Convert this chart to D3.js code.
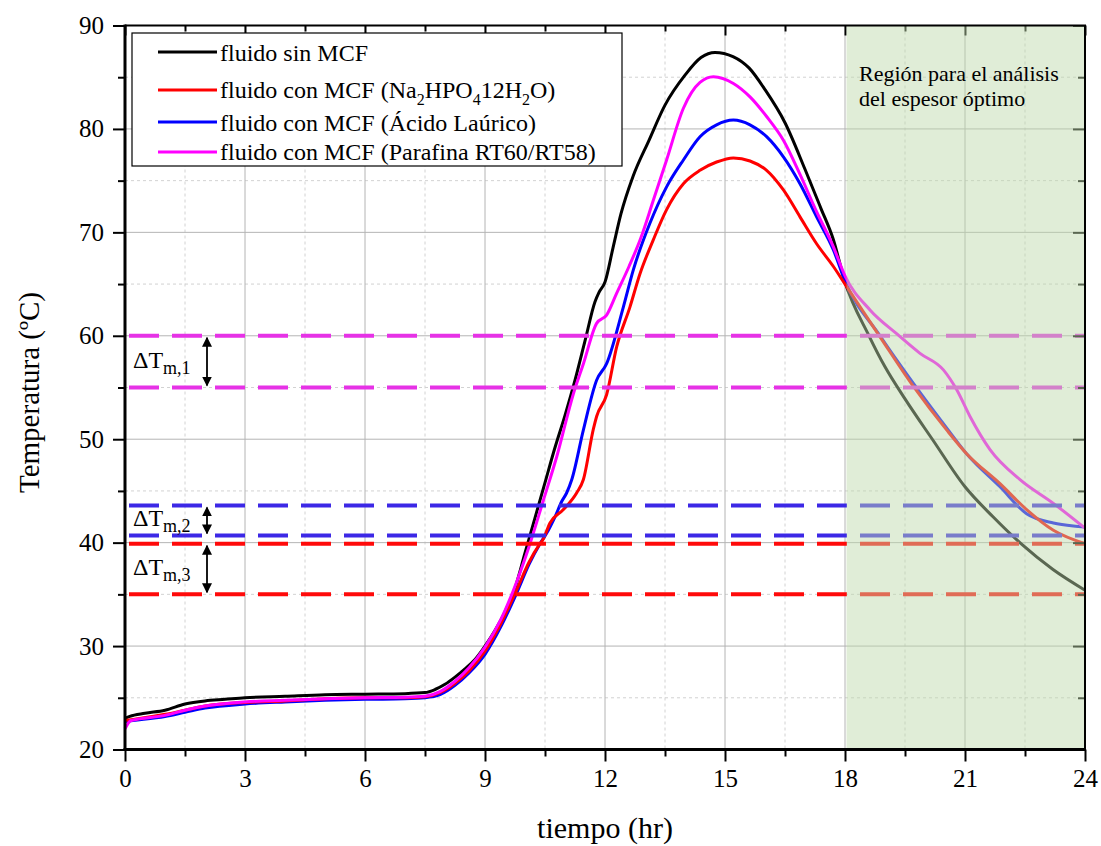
<!DOCTYPE html>
<meta charset="utf-8">
<style>
body { margin: 0; background: #fff; }
text { font-family: "Liberation Serif", "Times New Roman", serif; fill: #000; }
.grid-major line { stroke: #b4b4b4; stroke-width: 1; }
.grid-minor line { stroke: #d2d2d2; stroke-width: 1; stroke-dasharray: 3,3; }
.axis path { display: none; }
.axis line { stroke: #000; stroke-width: 2; }
</style>
<svg width="1101" height="846"></svg>
<script src="https://d3js.org/d3.v7.min.js"></script>
<script>

// ---- data ----
var xMajor = [0, 3, 6, 9, 12, 15, 18, 21, 24];
var xMinor = [1.5, 4.5, 7.5, 10.5, 13.5, 16.5, 19.5, 22.5];
var yMajor = [20, 30, 40, 50, 60, 70, 80, 90];
var yMinor = [25, 35, 45, 55, 65, 75, 85];

// fluido sin MCF
var tBlack = [0, 0.12, 0.5, 1, 1.5, 2, 2.5, 3, 4, 5, 6, 7, 7.5, 7.75, 8, 8.25, 8.5, 8.75, 9, 9.25, 9.5, 9.75, 10, 10.25, 10.5, 10.75, 11, 11.25, 11.5, 11.75, 11.85, 12, 12.2, 12.4, 12.7, 13.1, 13.5, 14, 14.4, 14.75, 15.2, 15.6, 16, 16.5, 17, 17.4, 17.7, 18, 18.6, 19, 19.5, 20.2, 21, 21.7, 22.4, 23.2, 24];
var vBlack = [23.0, 23.2, 23.5, 23.8, 24.4, 24.7, 24.85, 25.0, 25.15, 25.3, 25.35, 25.4, 25.5, 25.8, 26.3, 27.0, 27.8, 28.7, 30.0, 31.5, 33.3, 35.6, 39.0, 42.4, 45.8, 49.2, 52.3, 55.7, 59.5, 63.3, 64.2, 65.2, 68.5, 71.8, 75.4, 78.9, 82.3, 85.2, 86.9, 87.4, 87.0, 85.9, 83.8, 80.6, 76.1, 72.3, 69.4, 65.2, 60.0, 57.0, 53.9, 49.9, 45.4, 42.5, 39.9, 37.4, 35.4];

// fluido con MCF (Na2HPO4 12H2O)
var tRed = [0, 0.2, 1, 1.5, 2, 3, 4, 5, 6, 7, 7.5, 7.875, 8.25, 8.6, 9, 9.4, 9.8, 10.1, 10.375, 10.45, 10.625, 10.96, 11.29, 11.46, 11.71, 11.79, 12.04, 12.29, 12.625, 12.875, 13.21, 13.54, 13.96, 14.375, 14.79, 15.21, 15.625, 16.04, 16.46, 16.875, 17.29, 17.71, 18, 18.875, 19.71, 20.54, 21.04, 21.875, 22.54, 23.21, 24];
var vRed = [22.8, 22.9, 23.4, 23.8, 24.2, 24.55, 24.7, 24.9, 25.0, 25.0, 25.1, 25.5, 26.4, 27.6, 29.5, 32.2, 35.5, 38.1, 39.9, 40.3, 41.9, 43.2, 44.8, 46.1, 51.0, 52.2, 54.3, 58.9, 62.8, 66.0, 69.3, 72.2, 74.7, 76.0, 76.8, 77.2, 76.9, 76.0, 74.1, 71.5, 68.9, 66.7, 65.0, 59.9, 55.1, 50.9, 48.6, 45.7, 43.2, 41.2, 39.9];

// fluido con MCF (Acido Laurico)
var tBlue = [0, 0.2, 1, 1.5, 2, 3, 4, 5, 6, 7, 7.5, 7.875, 8.25, 8.6, 9, 9.4, 9.8, 10.1, 10.375, 10.54, 10.75, 10.92, 11.04, 11.17, 11.46, 11.79, 12.04, 12.46, 12.71, 13.125, 13.54, 13.96, 14.375, 14.79, 15.21, 15.625, 16.04, 16.46, 16.875, 17.29, 17.71, 18, 18.875, 19.71, 20.54, 21.04, 21.875, 22.54, 23.21, 23.71, 24];
var vBlue = [22.7, 22.8, 23.2, 23.6, 24.0, 24.4, 24.6, 24.75, 24.85, 24.9, 25.0, 25.3, 26.2, 27.4, 29.2, 31.9, 35.2, 37.9, 39.9, 40.9, 42.5, 44.0, 44.8, 46.1, 50.9, 55.7, 57.3, 62.8, 66.4, 70.9, 74.4, 77.0, 79.25, 80.4, 80.86, 80.4, 79.25, 77.3, 74.7, 71.5, 68.3, 65.3, 60.0, 55.4, 51.1, 48.6, 45.4, 42.8, 41.9, 41.6, 41.5];

// fluido con MCF (Parafina RT60/RT58)
var tMag = [0, 0.15, 1, 1.5, 2, 3, 4, 5, 6, 7, 7.5, 7.875, 8.25, 8.6, 9, 9.4, 9.8, 10.1, 10.46, 10.8, 11.21, 11.46, 11.79, 12.04, 12.29, 12.6, 12.9, 13.2, 13.54, 13.96, 14.375, 14.71, 15.21, 15.625, 16.04, 16.46, 16.875, 17.29, 17.71, 18, 18.625, 19.29, 19.875, 20.46, 20.79, 21.125, 21.625, 22.375, 23.21, 24];
var vMag = [22.0, 22.8, 23.3, 23.8, 24.2, 24.6, 24.75, 24.9, 25.0, 25.05, 25.15, 25.6, 26.6, 27.9, 29.9, 32.6, 36.3, 39.6, 44.1, 48.4, 54.4, 57.3, 61.2, 62.0, 64.1, 66.7, 69.5, 73.0, 77.0, 82.0, 84.5, 85.05, 84.4, 83.1, 81.2, 78.9, 75.6, 72.0, 68.6, 65.8, 62.5, 60.2, 58.3, 56.7, 54.8, 52.2, 49.0, 46.1, 43.8, 41.4];

var seriesNames = ["fluido sin MCF", "fluido con MCF (Na2HPO412H2O)", "fluido con MCF (Ácido Laúrico)", "fluido con MCF (Parafina RT60/RT58)"];
var seriesColors = ["#000000", "#ff0000", "#0000ff", "#ff00ff"];

// melting ranges (dashed lines), pairs per PCM
var meltTop = [60, 43.6, 39.9];
var meltBottom = [55, 40.7, 35];
var meltNames = ["m,1", "m,2", "m,3"];
var meltColors = ["#e632e6", "#3c28e6", "#ff0a0a"];

var regionStart = 18, regionEnd = 24;

// ---- layout ----
var svg = d3.select("svg");
var x = d3.scaleLinear().domain([0, 24]).range([125, 1085]);
var y = d3.scaleLinear().domain([20, 90]).range([749.5, 25.5]);
var pL = x(0), pR = x(24), pT = y(90), pB = y(20);
var serif = "Liberation Serif, Times New Roman, serif";

svg.append("rect").attr("width", 1101).attr("height", 846).attr("fill", "#fff");

// grid
svg.append("g").attr("class", "grid-minor")
  .selectAll("line").data(xMinor).join("line")
    .attr("x1", d => x(d)).attr("x2", d => x(d)).attr("y1", pT).attr("y2", pB);
svg.append("g").attr("class", "grid-minor")
  .selectAll("line").data(yMinor).join("line")
    .attr("y1", d => y(d)).attr("y2", d => y(d)).attr("x1", pL).attr("x2", pR);
svg.append("g").attr("class", "grid-major")
  .selectAll("line").data(xMajor.slice(1, -1)).join("line")
    .attr("x1", d => x(d)).attr("x2", d => x(d)).attr("y1", pT).attr("y2", pB);
svg.append("g").attr("class", "grid-major")
  .selectAll("line").data(yMajor.slice(1, -1)).join("line")
    .attr("y1", d => y(d)).attr("y2", d => y(d)).attr("x1", pL).attr("x2", pR);

// curves
var line = d3.line().x(d => x(d[0])).y(d => y(d[1])).curve(d3.curveMonotoneX);
var series = [
  d3.zip(tBlack, vBlack),
  d3.zip(tRed, vRed),
  d3.zip(tBlue, vBlue),
  d3.zip(tMag, vMag)
];
[0, 2, 1, 3].forEach(function(i) {
  svg.append("path")
    .attr("d", line(series[i]))
    .attr("fill", "none")
    .attr("stroke", seriesColors[i])
    .attr("stroke-width", 3)
    .attr("stroke-linejoin", "round");
});

// dashed melting lines
var dashG = svg.append("g");
meltTop.forEach(function(v, i) {
  [v, meltBottom[i]].forEach(function(w) {
    dashG.append("line")
      .attr("x1", pL + 4).attr("x2", pR)
      .attr("y1", y(w)).attr("y2", y(w))
      .attr("stroke", meltColors[i])
      .attr("stroke-width", 4)
      .attr("stroke-dasharray", "30,13");
  });
});

// top / right inner ticks
var topAxis = svg.append("g").attr("class", "axis").attr("transform", "translate(0," + pT + ")");
topAxis.call(d3.axisBottom(x).tickValues(xMajor).tickSize(10).tickFormat(""));
topAxis.append("g").call(d3.axisBottom(x).tickValues(xMinor).tickSize(6).tickFormat(""));
var rightAxis = svg.append("g").attr("class", "axis").attr("transform", "translate(" + pR + ",0)");
rightAxis.call(d3.axisLeft(y).tickValues(yMajor).tickSize(12).tickFormat(""));
rightAxis.append("g").call(d3.axisLeft(y).tickValues(yMinor).tickSize(7).tickFormat(""));
svg.selectAll(".axis .domain").remove();

// green region overlay
svg.append("rect")
  .attr("x", x(regionStart) + 1.5).attr("y", pT)
  .attr("width", x(regionEnd) - x(regionStart) - 1.5).attr("height", pB - pT)
  .attr("fill", "#bdd9aa").attr("fill-opacity", 0.475);

svg.append("text").attr("x", 859).attr("y", 81).attr("font-size", 22).text("Región para el análisis");
svg.append("text").attr("x", 859).attr("y", 106).attr("font-size", 22).text("del espesor óptimo");

// bottom / left axes
var xAxisG = svg.append("g").attr("class", "axis").attr("transform", "translate(0," + pB + ")");
xAxisG.call(d3.axisBottom(x).tickValues(xMajor).tickSize(12).tickPadding(8).tickFormat(d3.format("d")));
xAxisG.append("g").call(d3.axisBottom(x).tickValues(xMinor).tickSize(7).tickFormat(""));
xAxisG.attr("font-family", serif).attr("font-size", 25);
xAxisG.selectAll("text").attr("fill", "#000").style("font-family", serif).style("font-size", "25px");

var yAxisG = svg.append("g").attr("class", "axis").attr("transform", "translate(" + pL + ",0)");
yAxisG.call(d3.axisLeft(y).tickValues(yMajor).tickSize(12).tickPadding(9).tickFormat(d3.format("d")));
yAxisG.append("g").call(d3.axisLeft(y).tickValues(yMinor).tickSize(7).tickFormat(""));
yAxisG.attr("font-family", serif).attr("font-size", 25);
yAxisG.selectAll("text").attr("fill", "#000").style("font-family", serif).style("font-size", "25px");
svg.selectAll(".axis .domain").remove();

// frame
svg.append("line").attr("x1", pL).attr("x2", pR + 1).attr("y1", pT).attr("y2", pT).attr("stroke", "#000").attr("stroke-width", 2);
svg.append("line").attr("x1", pR).attr("x2", pR).attr("y1", pT).attr("y2", pB).attr("stroke", "#000").attr("stroke-width", 2);
svg.append("line").attr("x1", pL - 1.5).attr("x2", pR + 1).attr("y1", pB).attr("y2", pB).attr("stroke", "#000").attr("stroke-width", 3);
svg.append("line").attr("x1", pL).attr("x2", pL).attr("y1", pT - 1).attr("y2", pB + 1.5).attr("stroke", "#000").attr("stroke-width", 3);

// axis titles
svg.append("text")
  .attr("transform", "translate(39," + ((pT + pB) / 2 + 5) + ") rotate(-90)")
  .attr("text-anchor", "middle").attr("font-size", 29)
  .text("Temperatura (ºC)");
svg.append("text")
  .attr("x", (pL + pR) / 2).attr("y", 838)
  .attr("text-anchor", "middle").attr("font-size", 30)
  .text("tiempo (hr)");

// double arrows + delta labels
var defs = svg.append("defs");
defs.append("marker").attr("id", "ah").attr("viewBox", "0 0 10 10")
  .attr("refX", 9).attr("refY", 5).attr("markerWidth", 10).attr("markerHeight", 10)
  .attr("markerUnits", "userSpaceOnUse").attr("orient", "auto-start-reverse")
  .append("path").attr("d", "M0,0 L10,5 L0,10 z").attr("fill", "#000");
meltTop.forEach(function(v, i) {
  svg.append("line")
    .attr("x1", 207).attr("x2", 207)
    .attr("y1", y(v) + 2).attr("y2", y(meltBottom[i]) - 2)
    .attr("stroke", "#000").attr("stroke-width", 1.8)
    .attr("marker-start", "url(#ah)").attr("marker-end", "url(#ah)");
  var lbl = svg.append("text")
    .attr("x", 133)
    .attr("y", (y(v) + y(meltBottom[i])) / 2 + 6)
    .attr("font-size", 24);
  lbl.append("tspan").text("ΔT");
  lbl.append("tspan").attr("dy", 6).attr("font-size", 18).text(meltNames[i]);
});

// legend
var lg = svg.append("g");
lg.append("rect").attr("x", 132).attr("y", 33).attr("width", 490).attr("height", 133)
  .attr("fill", "#fff").attr("stroke", "#000").attr("stroke-width", 1.2);
var rowY = [52, 90, 122, 152];
var rowBase = [61, 98, 131, 160];
seriesNames.forEach(function(name, i) {
  lg.append("line").attr("x1", 158).attr("x2", 217).attr("y1", rowY[i]).attr("y2", rowY[i])
    .attr("stroke", seriesColors[i]).attr("stroke-width", 3);
  var t = lg.append("text").attr("x", 220).attr("y", rowBase[i]).attr("font-size", 24);
  if (i === 1) {
    t.append("tspan").text("fluido con MCF (Na");
    t.append("tspan").attr("dy", 7).attr("font-size", 16).text("2");
    t.append("tspan").attr("dy", -7).text("HPO");
    t.append("tspan").attr("dy", 7).attr("font-size", 16).text("4");
    t.append("tspan").attr("dy", -7).text("12H");
    t.append("tspan").attr("dy", 7).attr("font-size", 16).text("2");
    t.append("tspan").attr("dy", -7).text("O)");
  } else {
    t.text(name);
  }
});

</script>
